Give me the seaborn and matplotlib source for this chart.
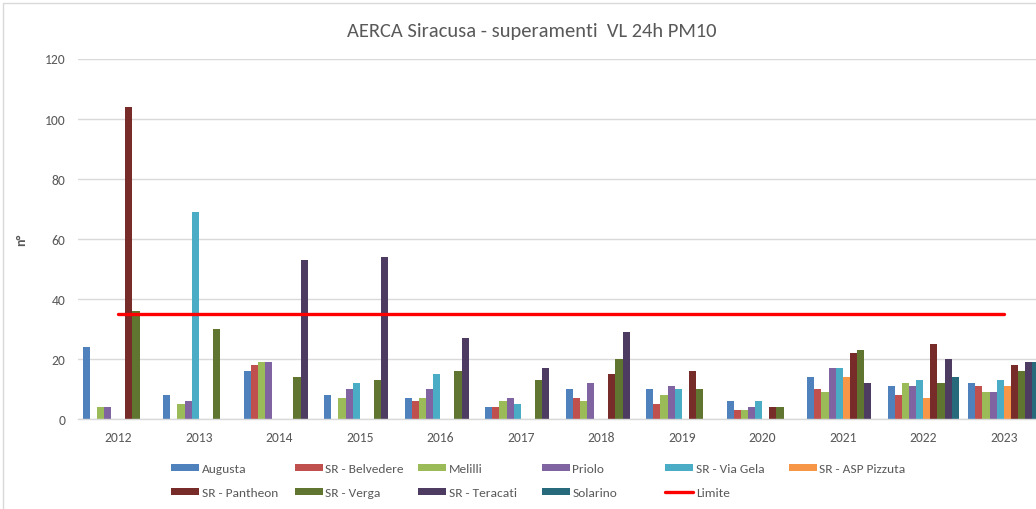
import numpy as np
import pandas as pd
import matplotlib
matplotlib.use("Agg")
import matplotlib.pyplot as plt
from matplotlib.patches import Patch, Rectangle
from matplotlib.lines import Line2D
import seaborn as sns

years = ["2012", "2013", "2014", "2015", "2016", "2017", "2018", "2019", "2020", "2021", "2022", "2023"]
stations = ["Augusta", "SR - Belvedere", "Melilli", "Priolo", "SR - Via Gela",
            "SR - ASP Pizzuta", "SR - Pantheon", "SR - Verga", "SR - Teracati", "Solarino"]
nan = np.nan
augusta   = [24, 8, 16, 8, 7, 4, 10, 10, 6, 14, 11, 12]
belvedere = [nan, nan, 18, nan, 6, 4, 7, 5, 3, 10, 8, 11]
melilli   = [4, 5, 19, 7, 7, 6, 6, 8, 3, 9, 12, 9]
priolo    = [4, 6, 19, 10, 10, 7, 12, 11, 4, 17, 11, 9]
via_gela  = [nan, 69, nan, 12, 15, 5, nan, 10, 6, 17, 13, 13]
asp       = [nan, nan, nan, nan, nan, nan, nan, nan, nan, 14, 7, 11]
pantheon  = [104, nan, nan, nan, nan, nan, 15, 16, 4, 22, 25, 18]
verga     = [36, 30, 14, 13, 16, 13, 20, 10, 4, 23, 12, 16]
teracati  = [nan, nan, 53, 54, 27, 17, 29, nan, nan, 12, 20, 19]
solarino  = [nan, nan, nan, nan, nan, nan, nan, nan, nan, nan, 14, 19]
limite    = [35] * 12

series = [augusta, belvedere, melilli, priolo, via_gela, asp, pantheon, verga, teracati, solarino]
colors = ["#4F81BD", "#C0504D", "#9BBB59", "#8064A2", "#4BACC6",
          "#F79646", "#772C2A", "#5F7530", "#4D3B62", "#276A7C"]

rows = []
for st, vals in zip(stations, series):
    for y, v in zip(years, vals):
        rows.append({"year": y, "station": st, "value": v})
df = pd.DataFrame(rows).dropna()

sns.set_theme(style="white")
plt.rcParams["font.family"] = ["Carlito", "Lato", "DejaVu Sans"]
txt = "#595959"

fig = plt.figure(figsize=(10.36, 5.10), dpi=100)
W, H = 1036, 510
ax = fig.add_axes([78 / W, 1 - 420 / H, (1044 - 78) / W, (420 - 59.5) / H])

sns.barplot(data=df, x="year", y="value", hue="station", hue_order=stations,
            order=years, palette=colors, width=0.88, gap=0, errorbar=None,
            saturation=1, linewidth=0, legend=False, ax=ax)
sns.lineplot(x=np.arange(len(years)), y=limite, color="#FF0000", linewidth=2.4, ax=ax,
             legend=False)

ax.set_xlim(-0.5, len(years) - 0.5)
ax.set_ylim(0, 120)
ax.set_yticks(np.arange(0, 121, 20))
ax.yaxis.grid(True, color="#D9D9D9", linewidth=1)
ax.set_axisbelow(True)
for s in ["left", "right", "top"]:
    ax.spines[s].set_visible(False)
ax.spines["bottom"].set_color("#D9D9D9")
ax.spines["bottom"].set_linewidth(1)
ax.tick_params(axis="both", length=0, labelsize=9.8, colors=txt)
ax.tick_params(axis="y", pad=9)
ax.tick_params(axis="x", pad=9)
ax.set_xlabel("")
ax.set_ylabel("n°", fontsize=10, fontweight="bold", color=txt, labelpad=13)

fig.text(532 / W, 1 - 31 / H, "AERCA Siracusa - superamenti  VL 24h PM10",
         ha="center", va="center", fontsize=14.8, color=txt)

# legend: Excel-like uniform columns, one small legend per column
handles = {st: Patch(facecolor=c, edgecolor="none") for st, c in zip(stations, colors)}
handles["Limite"] = Line2D([0], [0], color="#FF0000", linewidth=2.4)
columns = [["Augusta", "SR - Pantheon"], ["SR - Belvedere", "SR - Verga"],
           ["Melilli", "SR - Teracati"], ["Priolo", "Solarino"],
           ["SR - Via Gela", "Limite"], ["SR - ASP Pizzuta"]]
for i, col in enumerate(columns):
    leg = fig.legend([handles[k] for k in col], col, loc="upper left",
                     bbox_to_anchor=((171 + 123.5 * i) / W, 1 - 464.5 / H), frameon=False,
                     fontsize=9.6, handlelength=2.1, handleheight=0.38, handletextpad=0.2,
                     labelspacing=0.95, borderpad=0, borderaxespad=0)
    for t in leg.get_texts():
        t.set_color(txt)

fig.patches.append(Rectangle((3 / W, -0.1), 1.2, 1 - 4 / H + 0.1, transform=fig.transFigure,
                             fill=False, edgecolor="#D9D9D9", linewidth=1, zorder=-1))

fig.savefig("out.png", dpi=100)
